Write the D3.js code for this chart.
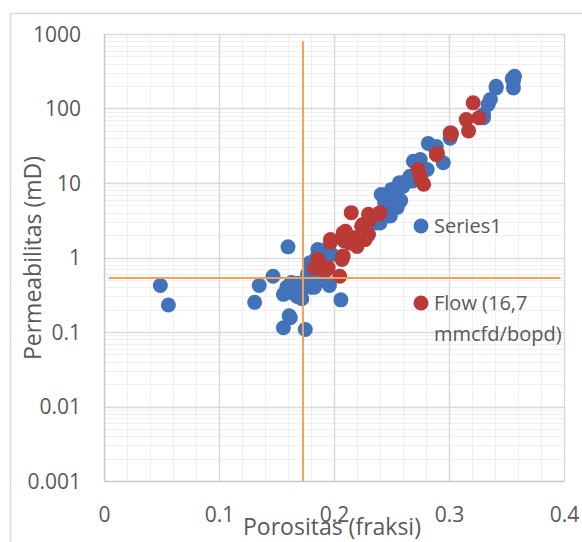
<!DOCTYPE html>
<html>
<head>
<meta charset="utf-8">
<script src="https://cdn.jsdelivr.net/npm/d3@7"></script>
<style>
  html, body { margin: 0; padding: 0; background: #fff; }
  svg { display: block; font-family: "Open Sans", sans-serif; }
</style>
</head>
<body>
<svg id="chart" width="582" height="542"></svg>
<script>
// ---- data ----
const xTickValues = [0, 0.1, 0.2, 0.3, 0.4];
const xTickLabels = ["0", "0.1", "0.2", "0.3", "0.4"];
const yTickValues = [0.001, 0.01, 0.1, 1, 10, 100, 1000];
const yTickLabels = ["0.001", "0.01", "0.1", "1", "10", "100", "1000"];

const series1 = [
  [0.049,0.42],[0.056,0.23],[0.131,0.25],[0.135,0.42],[0.147,0.56],[0.160,1.39],
  [0.159,0.40],[0.163,0.46],[0.156,0.32],[0.162,0.35],[0.166,0.32],[0.168,0.30],
  [0.172,0.28],[0.176,0.41],[0.180,0.40],[0.183,0.40],[0.186,0.49],[0.177,0.60],
  [0.182,0.73],[0.179,0.85],[0.185,1.0],[0.190,1.23],[0.186,1.28],[0.198,1.1],
  [0.196,0.42],[0.206,0.27],[0.162,0.155],[0.161,0.165],[0.156,0.114],[0.175,0.108],
  [0.170,0.36],[0.190,0.55],[0.192,0.85],[0.169,0.45],
  [0.237,2.9],[0.240,2.9],[0.246,3.6],[0.249,3.6],[0.246,4.6],[0.255,4.7],
  [0.252,5.4],[0.243,6.6],[0.241,7.0],[0.250,8.2],[0.257,10.1],[0.263,10.6],
  [0.244,5.5],[0.248,6.0],[0.253,7.5],[0.258,5.8],[0.260,9.0],
  [0.268,10.6],[0.266,12.3],[0.281,15.2],[0.269,19.6],[0.275,20.6],[0.295,18.7],
  [0.282,34],[0.289,31],[0.288,29],[0.302,47],[0.301,40],[0.330,75],[0.330,83],
  [0.334,113],[0.336,132],[0.341,189],[0.341,199],[0.356,189],[0.356,232],
  [0.357,270],[0.355,250]
];
const flow = [
  [0.183,0.73],[0.186,0.95],[0.188,0.73],[0.191,0.69],[0.195,0.73],[0.194,0.69],
  [0.205,0.56],[0.208,1.05],[0.207,0.94],[0.197,1.6],[0.209,1.67],[0.214,1.57],
  [0.197,1.74],[0.208,2.14],[0.210,2.25],[0.217,1.84],[0.220,1.41],[0.227,1.74],
  [0.230,2.03],[0.224,2.63],[0.225,2.77],[0.231,3.2],[0.215,4.0],[0.230,3.8],
  [0.239,3.8],[0.240,4.0],[0.273,15.2],[0.276,10.6],[0.278,9.6],[0.275,12.3],
  [0.290,25],[0.289,24],[0.302,45],[0.301,47],[0.315,71],[0.317,50],[0.326,75],
  [0.321,119]
];
// cut-off lines
const vLine = [[0.173, 0.001], [0.173, 800]];
const hLine = [[0.004, 0.53], [0.397, 0.53]];

const seriesNames = ["Series1", "Flow (16,7", "mmcfd/bopd)"];
const xTitle = "Porositas (fraksi)";
const yTitle = "Permeabilitas (mD)";

// ---- layout ----
const svg = d3.select("#chart");
const x = d3.scaleLinear().domain([0, 0.4]).range([104, 564]);
const y = d3.scaleLog().domain([0.001, 1000]).range([481, 34]);

const blue = "#4272BA", red = "#B93A36", orange = "#F5A05A";
const textCol = "#595959";

// outer chart border
svg.append("rect").attr("x", 10.5).attr("y", 13.5).attr("width", 600).attr("height", 600)
  .attr("fill", "none").attr("stroke", "#D9D9D9").attr("stroke-width", 1.5);

const grid = svg.append("g");
// minor x grid
const xMinor = d3.range(0.02, 0.4, 0.02).filter(v => Math.abs(v * 10 - Math.round(v * 10)) > 1e-6);
grid.selectAll(".xm").data(xMinor).join("line")
  .attr("x1", d => Math.round(x(d)) + 0.5).attr("x2", d => Math.round(x(d)) + 0.5)
  .attr("y1", y(1000)).attr("y2", y(0.001))
  .attr("stroke", "#EFEFEF").attr("stroke-width", 1);
// minor y grid
const yMinor = [];
for (let e = -3; e < 3; e++) for (let m = 2; m <= 9; m++) yMinor.push(m * Math.pow(10, e));
grid.selectAll(".ym").data(yMinor).join("line")
  .attr("y1", d => Math.round(y(d)) + 0.5).attr("y2", d => Math.round(y(d)) + 0.5)
  .attr("x1", x(0)).attr("x2", x(0.4))
  .attr("stroke", "#EFEFEF").attr("stroke-width", 1);
// major grid
grid.selectAll(".xM").data(xTickValues.slice(1)).join("line")
  .attr("x1", d => Math.round(x(d)) + 0.5).attr("x2", d => Math.round(x(d)) + 0.5)
  .attr("y1", y(1000)).attr("y2", y(0.001))
  .attr("stroke", "#D9D9D9").attr("stroke-width", 1.5);
grid.selectAll(".yM").data(yTickValues.slice(1)).join("line")
  .attr("y1", d => Math.round(y(d)) + 0.5).attr("y2", d => Math.round(y(d)) + 0.5)
  .attr("x1", x(0)).attr("x2", x(0.4))
  .attr("stroke", "#D9D9D9").attr("stroke-width", 1.5);
// axis lines
svg.append("line").attr("x1", x(0) + 0.5).attr("x2", x(0) + 0.5).attr("y1", y(1000)).attr("y2", y(0.001))
  .attr("stroke", "#C8C8C8").attr("stroke-width", 1.5);
svg.append("line").attr("x1", x(0)).attr("x2", x(0.4)).attr("y1", y(0.001) + 0.5).attr("y2", y(0.001) + 0.5)
  .attr("stroke", "#C8C8C8").attr("stroke-width", 1.5);

// axes (labels only)
const xAxis = d3.axisBottom(x).tickValues(xTickValues)
  .tickFormat((d, i) => xTickLabels[i]).tickSize(0).tickPadding(0);
const gx = svg.append("g").attr("transform", `translate(0, ${y(0.001)})`).call(xAxis);
gx.select(".domain").remove();
gx.selectAll("text").attr("y", 34).attr("dy", "0.32em")
  .attr("font-size", 21).attr("font-family", "Open Sans").attr("fill", textCol);

const yAxis = d3.axisLeft(y).tickValues(yTickValues)
  .tickFormat((d, i) => yTickLabels[i]).tickSize(0).tickPadding(0);
const gy = svg.append("g").attr("transform", `translate(81, 0)`).call(yAxis);
gy.select(".domain").remove();
gy.selectAll("text").attr("x", 0).attr("dy", "0.35em")
  .attr("font-size", 21).attr("font-family", "Open Sans").attr("fill", textCol);

// points
svg.append("g").selectAll("circle").data(series1).join("circle")
  .attr("cx", d => x(d[0])).attr("cy", d => y(d[1])).attr("r", 7.5).attr("fill", blue);
svg.append("g").selectAll("circle").data(flow).join("circle")
  .attr("cx", d => x(d[0])).attr("cy", d => y(d[1])).attr("r", 7.5).attr("fill", red);

// orange lines
const line = d3.line().x(d => x(d[0])).y(d => y(d[1]));
svg.append("path").attr("d", line(vLine)).attr("stroke", orange).attr("stroke-width", 2).attr("fill", "none");
svg.append("path").attr("d", line(hLine)).attr("stroke", orange).attr("stroke-width", 2).attr("fill", "none");

// legend
const leg = svg.append("g");
leg.append("circle").attr("cx", 421).attr("cy", 226).attr("r", 7.5).attr("fill", blue);
leg.append("text").attr("x", 434).attr("y", 226).attr("dy", "0.35em").text(seriesNames[0])
  .attr("font-size", 20).attr("fill", textCol);
leg.append("circle").attr("cx", 421).attr("cy", 303).attr("r", 7.5).attr("fill", red);
leg.append("text").attr("x", 434).attr("y", 303).attr("dy", "0.35em").text(seriesNames[1])
  .attr("font-size", 20).attr("fill", textCol);
leg.append("text").attr("x", 434).attr("y", 334).attr("dy", "0.35em").text(seriesNames[2])
  .attr("font-size", 20).attr("fill", textCol);

// axis titles
svg.append("text").attr("x", 332).attr("y", 535).attr("text-anchor", "middle")
  .attr("font-size", 23).attr("fill", textCol).text(xTitle);
svg.append("text").attr("transform", "translate(41, 258) rotate(-90)").attr("text-anchor", "middle")
  .attr("font-size", 23).attr("fill", textCol).text(yTitle);
</script>
</body>
</html>
